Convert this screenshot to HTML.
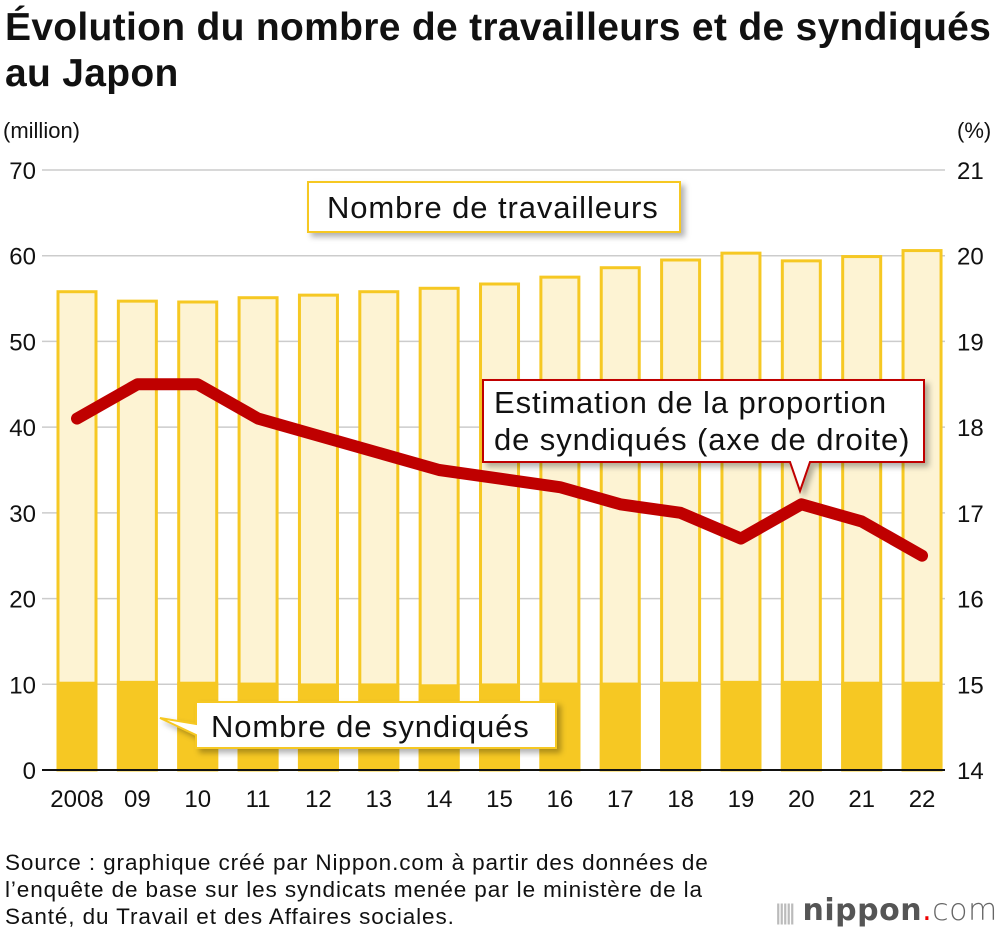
<!DOCTYPE html>
<html><head><meta charset="utf-8"><style>
body{margin:0;background:#fff;font-family:"Liberation Sans",Arial,sans-serif;}
#wrap{position:relative;width:1000px;height:934px;overflow:hidden;}
h1{position:absolute;left:5px;top:5px;margin:0;font-size:39px;line-height:46px;font-weight:bold;color:#111;letter-spacing:0.3px;white-space:nowrap;}
.src{position:absolute;left:5px;top:849px;font-size:22.5px;line-height:27px;color:#111;letter-spacing:0.9px;white-space:nowrap;}
</style></head><body>
<div id="wrap">
<h1>Évolution du nombre de travailleurs et de syndiqués<br>au Japon</h1>
<svg id="chart" width="1000" height="934" style="position:absolute;left:0;top:0">
<defs><filter id="sh" x="-10%" y="-10%" width="130%" height="140%"><feDropShadow dx="4" dy="4" stdDeviation="3" flood-color="#000" flood-opacity="0.3"/></filter></defs>
</svg>
<div class="src">Source : graphique créé par Nippon.com à partir des données de<br>l’enquête de base sur les syndicats menée par le ministère de la<br>Santé, du Travail et des Affaires sociales.</div>
<div style="position:absolute;left:775px;top:893px;font-size:30px;color:#555;font-family:'DejaVu Sans',sans-serif;letter-spacing:0.5px"><span style="color:#bbb;font-size:22px;letter-spacing:-3px">ǀǀǀǀǀ</span> <b style="font-weight:600">nippon</b><span style="color:#e00">.</span><span style="font-weight:300;color:#666">com</span></div>
</div>
<script>
const years=["2008","09","10","11","12","13","14","15","16","17","18","19","20","21","22"];
const workers=[55.8,54.7,54.6,55.1,55.4,55.8,56.2,56.7,57.5,58.6,59.5,60.3,59.4,59.9,60.6];
const unions=[10.3,10.4,10.3,10.2,10.1,10.1,10.0,10.1,10.2,10.2,10.3,10.4,10.4,10.3,10.3];
const rate=[18.1,18.5,18.5,18.1,17.9,17.7,17.5,17.4,17.3,17.1,17.0,16.7,17.1,16.9,16.5];
const leftTicks=[0,10,20,30,40,50,60,70];
const rightTicks=[14,15,16,17,18,19,20,21];
const NS="http://www.w3.org/2000/svg";
const svg=document.getElementById('chart');
const y0=770,y1=170;
const yL=v=>y0-(v/70)*(y0-y1);
const yR=v=>y0-((v-14)/7)*(y0-y1);
const xC=i=>77+i*60.36;
function mk(t,a){const e=document.createElementNS(NS,t);for(const k in a)e.setAttribute(k,a[k]);svg.appendChild(e);return e;}
leftTicks.forEach((t,i)=>{
 if(t>0){const g=mk('line',{x1:42,x2:945,y1:yL(t),y2:yL(t),stroke:'#ccc','stroke-width':1.5});
 
 }
 const l=mk('text',{x:36,y:yL(t)+9,'text-anchor':'end','font-size':24,fill:'#111'});l.textContent=t;
 
 
});
rightTicks.forEach(t=>{
 const l=mk('text',{x:957,y:yR(t)+9,'font-size':24,fill:'#111'});l.textContent=t;
 
 
});
let u=mk('text',{x:3,y:138,'font-size':22,fill:'#111'});u.textContent='(million)';


u=mk('text',{x:957,y:138,'font-size':22,fill:'#111'});u.textContent='(%)';


years.forEach((yr,i)=>{
 const x=xC(i)-19;
 const b=mk('rect',{x:x,y:yL(workers[i]),width:38,height:y0-yL(workers[i]),fill:'#fdf3d3',stroke:'#f6c823','stroke-width':3});
 
 
 const s=mk('rect',{x:x-1.5,y:yL(unions[i]),width:41,height:y0-yL(unions[i]),fill:'#f6c823'});
 
 
 const l=mk('text',{x:xC(i),y:807,'text-anchor':'middle','font-size':24,fill:'#111'});l.textContent=yr;
 
 
});
const ax=mk('line',{x1:42,x2:945,y1:y0,y2:y0,stroke:'#111','stroke-width':2});


const pl=mk('polyline',{points:rate.map((r,i)=>xC(i)+','+yR(r)).join(' '),fill:'none',stroke:'#bf0000','stroke-width':12,'stroke-linejoin':'round','stroke-linecap':'round'});


function callout(name,pts,stroke,lines,tx,ty,lh){
 const p=mk('path',{d:pts,fill:'#fff',stroke:stroke,'stroke-width':2,filter:'url(#sh)'});
 
 
 lines.forEach((s,k)=>{const t=mk('text',{x:tx,y:ty+k*lh,'font-size':31,'letter-spacing':0.9,fill:'#111'});t.textContent=s;
 
 });
}
callout('workers-label','M308,182 H680 V232 H308 Z','#f6c823',['Nombre de travailleurs'],327,218,0);
callout('unions-label','M196,702 H556 V748 H196 V735 L160,718 L196,724 Z','#f6c823',['Nombre de syndiqués'],211,737,0);
callout('rate-label','M483,380 H924 V462 H810 L800,491 L790,462 H483 Z','#c00000',['Estimation de la proportion','de syndiqués (axe de droite)'],494,413,37);
</script>
</body></html>
